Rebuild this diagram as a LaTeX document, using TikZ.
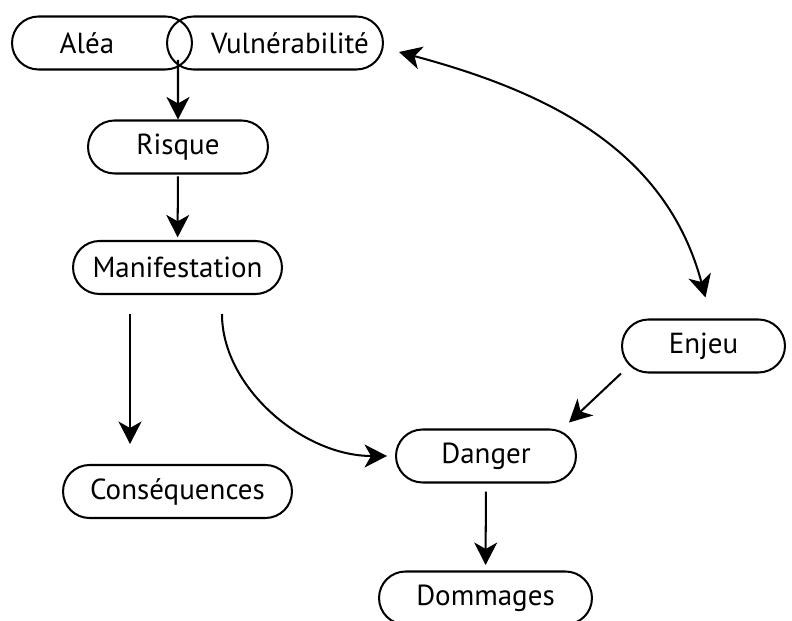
\documentclass[tikz,border=0pt]{standalone}
\usepackage{fontspec}
\setmainfont{PT Sans}
\usetikzlibrary{arrows.meta,shapes.misc}

\begin{document}
\begin{tikzpicture}[x=0.02cm,y=-0.02cm,>={Stealth[length=4.5mm,width=4.6mm,inset=1.3mm]},
                    line width=1.15pt,main node/.style={rounded rectangle,draw,minimum height=1.06cm,
                    inner sep=0pt,font=\fontsize{16.5}{19}\selectfont}]
  \useasboundingbox (0,0) rectangle (792,621);

  \node[main node, minimum width=3.6cm] (A) at (102,43) {\hspace*{-6mm}Aléa};
  \node[main node, minimum width=4.32cm] (V) at (275,43) {\hspace*{6mm}Vulnérabilité};
  \node[main node, minimum width=3.6cm] (R) at (178,147) {Risque};
  \node[main node, minimum width=4.18cm] (M) at (177.5,267.5) {Manifestation};
  \node[main node, minimum width=4.58cm] (C) at (177.5,491.5) {Conséquences};
  \node[main node, minimum width=3.26cm] (E) at (703.5,346) {Enjeu};
  \node[main node, minimum width=3.6cm] (D) at (486,456) {Danger};
  \node[main node, minimum width=4.26cm] (G) at (485.5,598) {Dommages};
  \coordinate (J) at (178,60);

  \draw[->] (J) -- (R);
  \draw[->,shorten <=1pt,shorten >=1.5pt] (R) -- (M);
  \draw[->,shorten <=0.38cm,shorten >=0.4cm] ([xshift=-0.95cm]M.south) -- ([xshift=-0.95cm]C.north);
  \draw[->,shorten <=0.38cm,shorten >=0.16cm] ([xshift=0.89cm]M.south) to[out=-90,in=180] (D.west);
  \draw[->] (E.west |- E.south) -- ([xshift=-0.16cm,yshift=0.12cm]D.east |- D.north);
  \draw[->,shorten <=0.16cm,shorten >=0.11cm] (D) -- (G);
  \draw[<->] ([xshift=0.3cm,yshift=-0.18cm]V.east) to[out=-15,in=105] ([xshift=0.04cm,yshift=0.42cm]E.north);
\end{tikzpicture}
\end{document}
